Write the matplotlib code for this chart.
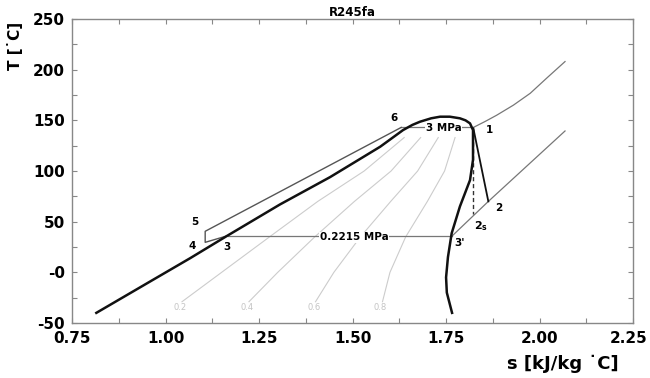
import matplotlib
matplotlib.use('Agg')
import matplotlib.pyplot as plt
import matplotlib.transforms as mtrans
from matplotlib.ticker import MultipleLocator, FixedLocator

# Saturation dome (liquid side up to critical, then vapour side down)
sat_s = [0.815, 0.959, 1.066, 1.160, 1.306, 1.440, 1.574, 1.635, 1.660,
         1.680, 1.710, 1.734, 1.760, 1.787, 1.802, 1.814, 1.822, 1.822,
         1.814, 1.787, 1.765, 1.755, 1.750, 1.752, 1.766]
sat_T = [-40, -9, 14, 35, 67, 94, 124, 140.4, 145.5,
         148.6, 152, 153.6, 153.6, 152, 150, 147, 140.4, 111,
         91, 65, 38.6, 15, -5, -20, -40]

# Constant quality lines
q_T = [-29, 0, 35, 70, 100, 133]
q02 = [1.044, 1.150, 1.278, 1.407, 1.531, 1.638]
q04 = [1.223, 1.300, 1.399, 1.505, 1.603, 1.682]
q06 = [1.401, 1.450, 1.521, 1.602, 1.674, 1.729]
q08 = [1.580, 1.600, 1.642, 1.700, 1.746, 1.774]
q_names = ['0.2', '0.4', '0.6', '0.8']

# 3 MPa isobar
hp_s = [1.630, 1.823]
hp_T = [143, 143]
hp_sup_s = [1.823, 1.855, 1.885, 1.930, 1.975, 2.020, 2.068]
hp_sup_T = [143, 149, 155, 165, 176.7, 192, 208]

# 0.2215 MPa isobar
lp_s = [1.167, 1.765]
lp_T = [35.5, 35.5]
lp_sup_s = [1.765, 1.863, 2.068]
lp_sup_T = [35.5, 70, 139.5]

# expansion 1-2 and isentropic 1-2s
turb_s = [1.823, 1.863]
turb_T = [142, 70]
isen_s = [1.823, 1.823]
isen_T = [142, 58]

# 3-4-5-6
cyc_s = [1.160, 1.106, 1.106, 1.630]
cyc_T = [35.5, 29.6, 40.5, 143]

xticks = [0.75, 1.00, 1.25, 1.50, 1.75, 2.00, 2.25]
yticks = [-50, 0, 50, 100, 150, 200, 250]
yticklabels = ['-50', '-0', '50', '100', '150', '200', '250']

fig = plt.figure(figsize=(6.5, 3.78), dpi=100)
ax = fig.add_axes([0.1108, 0.1455, 0.8632, 0.8042])

for qs, name in zip([q02, q04, q06, q08], q_names):
    ax.plot(qs, q_T, color='#cccccc', lw=0.8, zorder=1)
    ax.text(qs[0] - 0.005, -35, name, color='#c4c4c4', fontsize=6,
            ha='center', va='center')

ax.plot(hp_s, hp_T, color='#777777', lw=0.9, zorder=2)
ax.plot(hp_sup_s, hp_sup_T, color='#777777', lw=0.9, zorder=2)
ax.plot(lp_s, lp_T, color='#777777', lw=0.9, zorder=2)
ax.plot(lp_sup_s, lp_sup_T, color='#777777', lw=0.9, zorder=2)
ax.plot(cyc_s, cyc_T, color='#555555', lw=1.0, zorder=2)
ax.plot(isen_s, isen_T, color='#333333', lw=1.0, ls=(0, (3, 2)), zorder=3)
ax.plot(turb_s, turb_T, color='#111111', lw=1.3, zorder=3)
ax.plot(sat_s, sat_T, color='#111111', lw=1.8, zorder=4,
        solid_joinstyle='round')

box = dict(facecolor='white', edgecolor='none', pad=0.5)
ax.text(1.743, 142.0, '3 MPa', fontsize=7.5, fontweight='bold',
        ha='center', va='center', bbox=box, zorder=5)
ax.text(1.504, 34.5, '0.2215 MPa', fontsize=7.5, fontweight='bold',
        ha='center', va='center', bbox=box, zorder=5)

pts = [('1', 1.866, 140), ('2', 1.890, 63), ('3', 1.164, 25),
       ("3'", 1.787, 29), ('4', 1.071, 26), ('5', 1.079, 49.5),
       ('6', 1.611, 152)]
for lab, sx, ty in pts:
    ax.text(sx, ty, lab, fontsize=7.5, fontweight='bold',
            ha='center', va='center', zorder=6)
ax.text(1.843, 46, r'$\mathbf{2_s}$', fontsize=8, ha='center', va='center',
        zorder=6)

ax.set_xlim(0.75, 2.25)
ax.set_ylim(-50, 250)
ax.xaxis.set_major_locator(FixedLocator(xticks))
ax.set_xticklabels(['%.2f' % v for v in xticks])
ax.xaxis.set_minor_locator(MultipleLocator(0.125))
ax.yaxis.set_major_locator(FixedLocator(yticks))
ax.set_yticklabels(yticklabels)
ax.yaxis.set_minor_locator(MultipleLocator(25))
ax.tick_params(which='both', direction='in', top=True, right=True,
               length=3.5, width=0.8, color='#888888')
ax.tick_params(axis='x', which='major', pad=6, labelsize=11)
ax.tick_params(axis='y', which='major', pad=5, labelsize=11)
for lbl in ax.get_xticklabels() + ax.get_yticklabels():
    lbl.set_fontweight('bold')
for sp in ax.spines.values():
    sp.set_color('#888888')
    sp.set_linewidth(1.0)

# nudge the last x label so it stays inside the figure
last = ax.get_xticklabels()[-1]
last.set_transform(last.get_transform() +
                   mtrans.ScaledTranslation(-3 / 72, 0, fig.dpi_scale_trans))

ax.set_title('R245fa', fontsize=8.5, fontweight='bold', pad=1)
ax.set_xlabel('s [kJ/kg ˙C]', fontsize=13, fontweight='bold')
ax.xaxis.set_label_coords(0.874, -0.105)
ax.set_ylabel('T [˙C]', fontsize=11, fontweight='bold')
ax.yaxis.set_label_coords(-0.088, 0.91)

fig.savefig('out.png', dpi=100)
